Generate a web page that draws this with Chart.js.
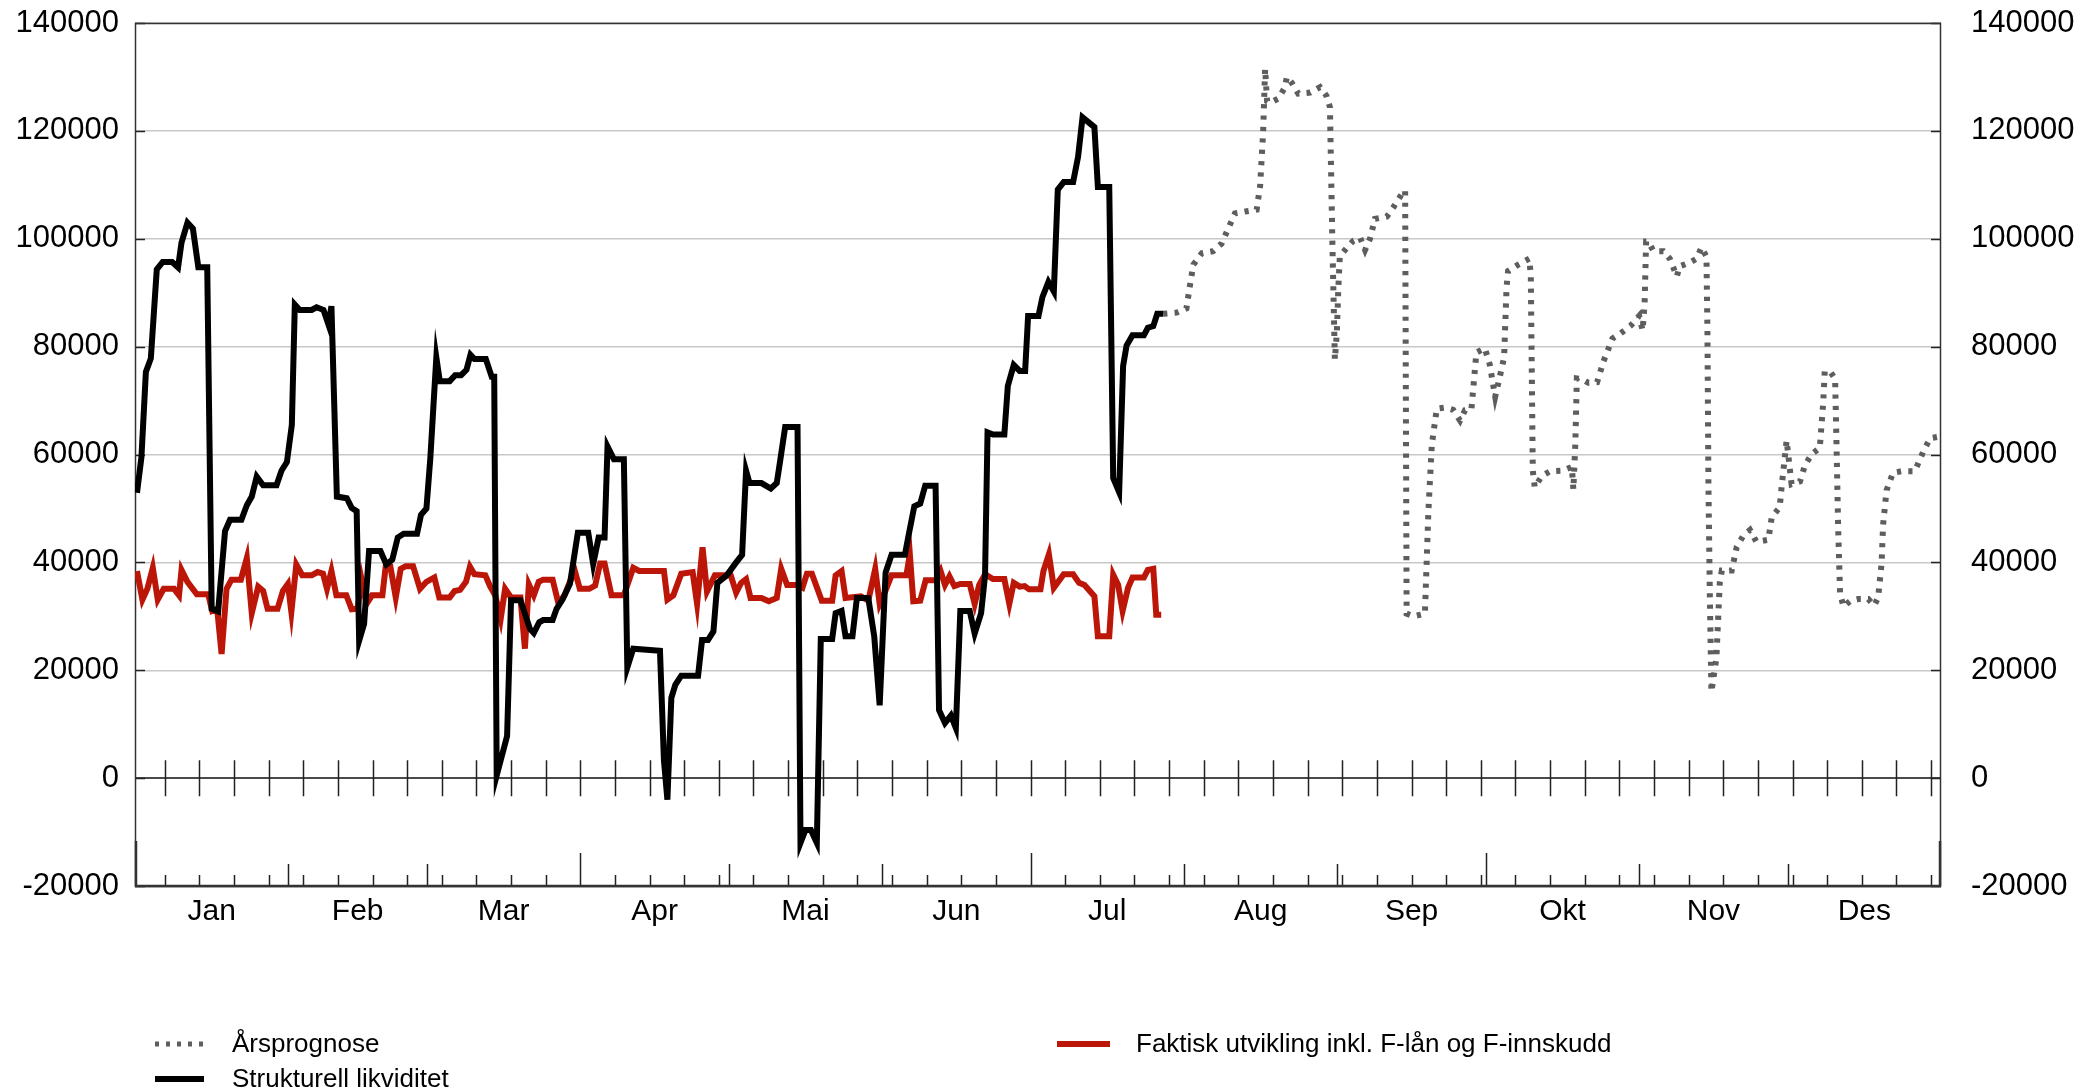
<!DOCTYPE html>
<html>
<head>
<meta charset="utf-8">
<script src="https://cdn.jsdelivr.net/npm/chart.js@4.4.1/dist/chart.umd.min.js"></script>
<style>
  html, body { margin: 0; padding: 0; background: #fff; }
  #wrap { width: 2098px; height: 1090px; }
</style>
</head>
<body>
<div id="wrap"><canvas id="myChart" width="2098" height="1090"></canvas></div>
<script>
// x = day of year (0..365), y = mill. kroner
const monthLabels = ["Jan", "Feb", "Mar", "Apr", "Mai", "Jun", "Jul", "Aug", "Sep", "Okt", "Nov", "Des"];
const monthMid = [15.5, 45, 74.5, 105, 135.5, 166, 196.5, 227.5, 258, 288.5, 319, 349.5];
const monthEnds = [31, 59, 90, 120, 151, 181, 212, 243, 273, 304, 334];
const quarterEnds = [90, 181, 273];
const firstWeekTick = 6;

const strukDays = [0.4, 1.3, 2.2, 3.2, 4.4, 5.6, 7.5, 8.7, 9.4, 10.6, 11.7, 12.8, 14.6, 15.5, 16.8, 18.2, 19.2, 21.5, 22.6, 23.6,
  24.6, 25.9, 28.6, 29.6, 30.7, 31.7, 32.3, 33.3, 35.7, 36.7, 38.1, 39.1, 39.7, 40.8, 42.8, 43.8, 44.8, 45.3, 46.3, 47.3,
  49.6, 50.8, 52.0, 53.1, 54.3, 57.0, 57.8, 58.9, 59.7, 60.9, 61.6, 63.6, 64.7, 65.9, 67.0, 67.8, 68.6, 70.9, 72.1, 72.6,
  73.1, 75.2, 76.0, 77.9, 79.8, 80.6, 81.7, 82.5, 84.4, 85.2, 86.4, 87.9, 89.5, 91.6, 92.6, 93.7, 94.9, 95.5, 96.8, 98.8,
  99.5, 100.7, 106.1, 106.9, 107.6, 108.4, 109.2, 110.4, 113.8, 114.6, 115.8, 116.9, 117.7, 119.6, 121.5, 122.7, 123.5, 124.2, 126.6, 128.5,
  129.7, 130.4, 131.4, 133.9, 134.5, 135.5, 136.6, 137.8, 138.6, 140.9, 141.6, 142.8, 143.6, 145.0, 145.9, 148.2, 149.4, 150.5, 151.7, 152.9,
  155.6, 156.3, 157.5, 158.7, 159.7, 161.8, 162.5, 163.7, 164.9, 165.9, 166.8, 168.7, 169.7, 171.0, 171.8, 172.3, 173.4, 175.7, 176.4, 177.6,
  178.8, 179.9, 180.5, 182.6, 183.4, 184.6, 185.7, 186.5, 187.7, 189.6, 190.6, 191.5, 193.9, 194.6, 196.9, 197.7, 198.9, 199.7, 200.4, 201.6,
  203.9, 204.7, 205.8, 206.6, 207.8];
const strukValues = [52900, 59500, 75300, 77800, 94300, 95700, 95700, 94700, 99300, 103000, 101900, 94700, 94700, 31400, 30900, 45800, 47900, 47900, 50600, 52200,
  55900, 54300, 54300, 57000, 58600, 65500, 87800, 86800, 86800, 87300, 86800, 84100, 87500, 52200, 51900, 50100, 49500, 25500, 28600, 42100,
  42100, 39600, 40500, 44600, 45300, 45300, 48800, 50000, 59500, 78000, 73600, 73600, 74700, 74700, 75700, 78500, 77700, 77700, 74400, 74400,
  500, 7800, 33000, 33000, 27700, 26900, 28900, 29300, 29300, 31400, 33100, 36000, 45500, 45500, 39700, 44600, 44600, 61500, 59100, 59100,
  20500, 24000, 23600, 3300, -4000, 14900, 17300, 19000, 19000, 25600, 25600, 27200, 36200, 37600, 40000, 41400, 57000, 54700, 54700, 53700,
  54700, 58900, 65100, 65100, -12000, -9600, -9600, -12000, 25800, 25800, 30600, 31000, 26300, 26300, 33400, 33400, 26300, 13500, 38100, 41400,
  41400, 44800, 50400, 50900, 54200, 54200, 12600, 10200, 11600, 9300, 31000, 31000, 26800, 30600, 37600, 64100, 63700, 63700, 72700, 76600,
  75500, 75500, 85700, 85700, 89200, 92000, 90200, 109100, 110500, 110500, 115200, 122500, 120700, 109600, 109600, 55600, 53000, 76400, 80200, 82100,
  82100, 83500, 83800, 86100, 86100];

const faktiskDays = [0.4, 1.5, 2.5, 3.6, 4.6, 5.8, 7.9, 8.9, 9.4, 10.6, 12.5, 14.8, 15.6, 16.6, 17.5, 18.5, 19.5, 21.4, 22.6, 23.6,
  24.9, 25.9, 26.8, 28.8, 29.9, 30.9, 31.6, 32.6, 33.8, 35.7, 36.9, 38.0, 38.8, 39.7, 40.7, 42.7, 43.8, 45.0, 45.8, 46.8,
  47.9, 50.0, 50.7, 51.6, 52.7, 53.7, 54.7, 56.2, 57.6, 58.9, 60.5, 61.5, 63.6, 64.6, 65.7, 66.9, 67.7, 68.6, 70.8, 71.8,
  72.8, 73.9, 74.8, 76.0, 77.9, 78.8, 79.6, 80.6, 81.6, 82.5, 84.4, 85.6, 86.8, 87.9, 88.9, 89.9, 91.8, 93.0, 94.0, 94.9,
  96.3, 98.8, 100.7, 101.9, 106.9, 107.6, 108.8, 110.4, 112.7, 113.6, 114.7, 115.6, 117.2, 120.4, 121.5, 122.5, 123.5, 124.4, 126.6, 128.1,
  129.7, 130.6, 131.8, 133.9, 134.9, 135.8, 136.8, 138.8, 140.9, 141.6, 142.8, 143.6, 146.7, 148.2, 149.6, 150.5, 151.7, 152.9, 155.9, 156.6,
  157.3, 158.7, 159.8, 161.8, 162.8, 163.7, 164.6, 165.6, 166.8, 168.7, 169.7, 170.6, 171.8, 173.4, 175.7, 176.7, 177.6, 178.8, 179.8, 180.7,
  183.0, 183.6, 184.7, 185.7, 187.7, 189.6, 190.8, 191.9, 193.9, 194.6, 196.9, 197.7, 198.7, 199.6, 200.7, 201.6, 203.9, 204.7, 205.8, 206.4,
  207.4];
const faktiskValues = [38400, 33100, 35100, 39000, 33100, 35100, 35100, 33900, 38600, 36400, 34100, 34100, 31000, 31400, 23000, 35100, 36800, 36800, 40800, 30600,
  35500, 34700, 31400, 31400, 34700, 36000, 30800, 39600, 37600, 37600, 38200, 37900, 35100, 38400, 33900, 33900, 31300, 31400, 36800, 32300,
  33900, 33900, 39500, 39300, 33500, 38800, 39300, 39300, 35100, 36400, 37200, 33500, 33500, 34700, 34900, 36400, 39200, 37800, 37600, 35500,
  33900, 29500, 35100, 33500, 33500, 24000, 35900, 33900, 36400, 36800, 36800, 32300, 33900, 36400, 38400, 35100, 35100, 35700, 39800, 39800,
  33900, 33900, 39000, 38400, 38400, 33100, 33900, 37900, 38200, 32300, 42800, 34600, 37600, 37600, 34400, 36200, 36900, 33400, 33400, 32800,
  33400, 38800, 35800, 35800, 35300, 37900, 37900, 32900, 32900, 37600, 38400, 33400, 33700, 32900, 38800, 32300, 34800, 37600, 37600, 41500,
  32800, 32900, 36700, 36700, 38400, 35800, 37400, 35600, 36000, 36000, 32300, 35800, 37800, 36900, 36900, 32300, 36200, 35500, 35600, 35000,
  35000, 38400, 41500, 35300, 37800, 37800, 36200, 35800, 33700, 26300, 26300, 37700, 35800, 31000, 35300, 37200, 37200, 38600, 38800, 30300,
  30300];

const prognoseDays = [207.8, 210.5, 212.5, 213.2, 213.9, 215.6, 217.9, 219.6, 221.0, 222.3, 224.7, 226.7, 227.4, 228.0, 228.4, 228.8, 229.4, 231.1, 232.4, 232.8,
  233.8, 235.1, 237.5, 239.5, 240.8, 241.5, 242.0, 242.5, 242.9, 243.2, 243.5, 244.9, 246.2, 247.6, 248.6, 249.6, 250.6, 253.0, 254.3, 256.3,
  256.7, 257.0, 258.4, 260.7, 261.4, 262.1, 263.1, 264.8, 266.4, 267.8, 268.8, 270.1, 271.1, 272.8, 273.8, 274.9, 275.9, 276.7, 277.2, 277.5,
  279.4, 281.8, 282.1, 282.5, 282.9, 284.3, 286.0, 288.5, 290.4, 290.7, 291.1, 291.4, 292.4, 293.7, 295.5, 296.8, 298.6, 300.3, 302.3, 304.0,
  304.7, 305.1, 305.4, 305.8, 306.9, 308.9, 310.2, 311.6, 312.2, 314.3, 315.6, 316.6, 317.6, 317.8, 318.0, 318.3, 318.6, 319.6, 320.3, 320.7,
  322.7, 323.7, 325.0, 326.4, 327.7, 330.1, 330.8, 332.4, 332.8, 333.8, 334.8, 336.5, 337.5, 338.9, 340.5, 341.2, 341.5, 342.6, 343.6, 343.9,
  344.2, 344.6, 345.3, 346.6, 348.3, 350.3, 351.5, 352.3, 353.0, 353.3, 354.0, 355.3, 357.0, 359.7, 361.4, 362.8, 364.5, 365];
const prognoseValues = [86100, 86300, 87100, 91300, 95200, 97300, 97700, 99100, 102000, 104700, 105100, 105400, 109900, 119800, 131500, 125500, 125200, 126000, 128100, 130000,
  128900, 126900, 127100, 128100, 126500, 124400, 99100, 77600, 82600, 90900, 96700, 98300, 99600, 100200, 97900, 100000, 103700, 104100, 105800, 108700,
  109000, 30500, 30000, 30500, 49500, 61900, 68500, 68700, 68300, 66300, 68200, 68400, 78900, 79700, 76700, 70700, 74700, 78000, 91000, 94000,
  95100, 96300, 93000, 57000, 53900, 56000, 56900, 57000, 57700, 53500, 62000, 74100, 74000, 73300, 73400, 77300, 81500, 82500, 83900, 85700,
  83000, 88000, 99500, 99500, 97700, 97700, 96300, 93000, 94900, 95600, 96300, 98400, 96700, 82500, 54100, 32800, 16000, 22200, 36400, 38500,
  38500, 42800, 44900, 46000, 43800, 44200, 48400, 50200, 54100, 62600, 54500, 55000, 58000, 60100, 61200, 69700, 75400, 75400, 74000, 61200,
  47000, 34200, 31800, 32800, 33200, 33200, 32000, 33500, 39900, 47000, 53400, 56600, 56900, 56900, 60500, 63000, 63300, 63500];

const toPoints = (days, values) => days.map((d, i) => ({ x: d, y: values[i] }));
const FONT = '"Liberation Sans", Arial, sans-serif';
const RED = "#bc1608";
const GREY = "#5e5e5e";

// axis decoration + legend
const axisDecor = {
    id: "axisDecor",
    beforeDatasetsDraw(chart) {
        const { ctx, chartArea: { left, right, top, bottom }, scales: { x, y } } = chart;
        const y0 = y.getPixelForValue(0);
        ctx.save();
        ctx.strokeStyle = "#222";
        ctx.lineWidth = 1.5;
        ctx.beginPath();
        for (let d = firstWeekTick; d < 365; d += 7) {
            const px = Math.round(x.getPixelForValue(d)) + 0.5;
            // crossing ticks on the zero line
            ctx.moveTo(px, y0 - 18);
            ctx.lineTo(px, y0 + 18);
            // small ticks on the bottom axis
            ctx.moveTo(px, bottom);
            ctx.lineTo(px, bottom - 11);
        }
        monthEnds.forEach((d) => {
            const px = Math.round(x.getPixelForValue(d)) + 0.5;
            const h = quarterEnds.includes(d) ? 33 : 22;
            ctx.moveTo(px, bottom);
            ctx.lineTo(px, bottom - h);
        });
        // inner ticks on both value axes
        for (let v = -20000; v <= 140000; v += 20000) {
            const py = Math.round(y.getPixelForValue(v)) + 0.5;
            ctx.moveTo(left, py);
            ctx.lineTo(left + 10, py);
            ctx.moveTo(right, py);
            ctx.lineTo(right - 10, py);
        }
        ctx.stroke();

        // frame
        ctx.strokeStyle = "#333";
        ctx.lineWidth = 1.5;
        ctx.strokeRect(left + 0.5, top + 0.5, right - left - 1, bottom - top);
        ctx.lineWidth = 2.5;
        ctx.beginPath();
        ctx.moveTo(left + 1, bottom);
        ctx.lineTo(left + 1, bottom - 45);
        ctx.moveTo(right - 1, bottom);
        ctx.lineTo(right - 1, bottom - 45);
        ctx.moveTo(left, bottom);
        ctx.lineTo(right, bottom);
        ctx.stroke();
        ctx.restore();
    },
    afterDraw(chart) {
        const { ctx } = chart;
        ctx.save();
        ctx.font = "26px " + FONT;
        ctx.fillStyle = "#000";
        ctx.textBaseline = "middle";
        ctx.lineCap = "butt";

        // Årsprognose
        ctx.strokeStyle = GREY;
        ctx.lineWidth = 5;
        ctx.setLineDash([4, 7]);
        ctx.beginPath();
        ctx.moveTo(155, 1044);
        ctx.lineTo(204, 1044);
        ctx.stroke();
        ctx.setLineDash([]);
        ctx.fillText("Årsprognose", 232, 1045);

        // Strukturell likviditet
        ctx.strokeStyle = "#000";
        ctx.lineWidth = 6;
        ctx.beginPath();
        ctx.moveTo(155, 1079);
        ctx.lineTo(204, 1079);
        ctx.stroke();
        ctx.fillText("Strukturell likviditet", 232, 1080);

        // Faktisk
        ctx.strokeStyle = RED;
        ctx.beginPath();
        ctx.moveTo(1057, 1044);
        ctx.lineTo(1110, 1044);
        ctx.stroke();
        ctx.fillText("Faktisk utvikling inkl. F-lån og F-innskudd", 1136, 1045);
        ctx.restore();
    },
};

const tickFont = { family: FONT, size: 30 };
const valueFont = { family: FONT, size: 31 };
const noPad = (scale, w) => {
    scale.width = w;
    scale.paddingTop = 0;
    scale.paddingBottom = 0;
};

const config = {
    type: "line",
    data: {
        datasets: [
            {
                label: "Strukturell likviditet",
                data: toPoints(strukDays, strukValues),
                borderColor: "#000",
                borderWidth: 6,
                pointRadius: 0,
                order: 1,
            },
            {
                label: "Faktisk utvikling inkl. F-lån og F-innskudd",
                data: toPoints(faktiskDays, faktiskValues),
                borderColor: RED,
                borderWidth: 6,
                pointRadius: 0,
                order: 2,
            },
            {
                label: "Årsprognose",
                data: toPoints(prognoseDays, prognoseValues),
                borderColor: GREY,
                borderWidth: 6,
                borderDash: [4.2, 7.2],
                pointRadius: 0,
                order: 3,
            },
        ],
    },
    options: {
        responsive: false,
        animation: false,
        events: [],
        layout: { padding: { top: 23, left: 0, right: 0, bottom: 0 } },
        elements: { line: { tension: 0, borderJoinStyle: "miter", borderCapStyle: "butt" } },
        plugins: { legend: { display: false }, tooltip: { enabled: false } },
        scales: {
            x: {
                type: "linear",
                min: 0,
                max: 365,
                grid: { display: false, drawTicks: false },
                border: { display: false },
                afterBuildTicks: (scale) => {
                    scale.ticks = monthMid.map((v) => ({ value: v }));
                },
                afterFit: (scale) => {
                    scale.height = 204;
                    scale.paddingLeft = 0;
                    scale.paddingRight = 0;
                },
                ticks: {
                    autoSkip: false,
                    maxRotation: 0,
                    padding: 8,
                    color: "#000",
                    font: tickFont,
                    callback: (v, i) => monthLabels[i],
                },
            },
            y: {
                min: -20000,
                max: 140000,
                border: { display: false },
                grid: {
                    drawTicks: false,
                    color: (c) => (c.tick.value === 0 ? "#4a4a4a" : "#c8c8c8"),
                    lineWidth: (c) => (c.tick.value === 0 ? 2 : 1.5),
                },
                afterFit: (scale) => noPad(scale, 135),
                ticks: { stepSize: 20000, padding: 16, color: "#000", font: valueFont, callback: (v) => String(v) },
            },
            y2: {
                position: "right",
                min: -20000,
                max: 140000,
                border: { display: false },
                grid: { display: false, drawTicks: false },
                afterFit: (scale) => noPad(scale, 157),
                ticks: { stepSize: 20000, padding: 30, color: "#000", font: valueFont, callback: (v) => String(v) },
            },
        },
    },
    plugins: [axisDecor],
};

const myChart = new Chart(document.getElementById("myChart"), config);
</script>
</body>
</html>
